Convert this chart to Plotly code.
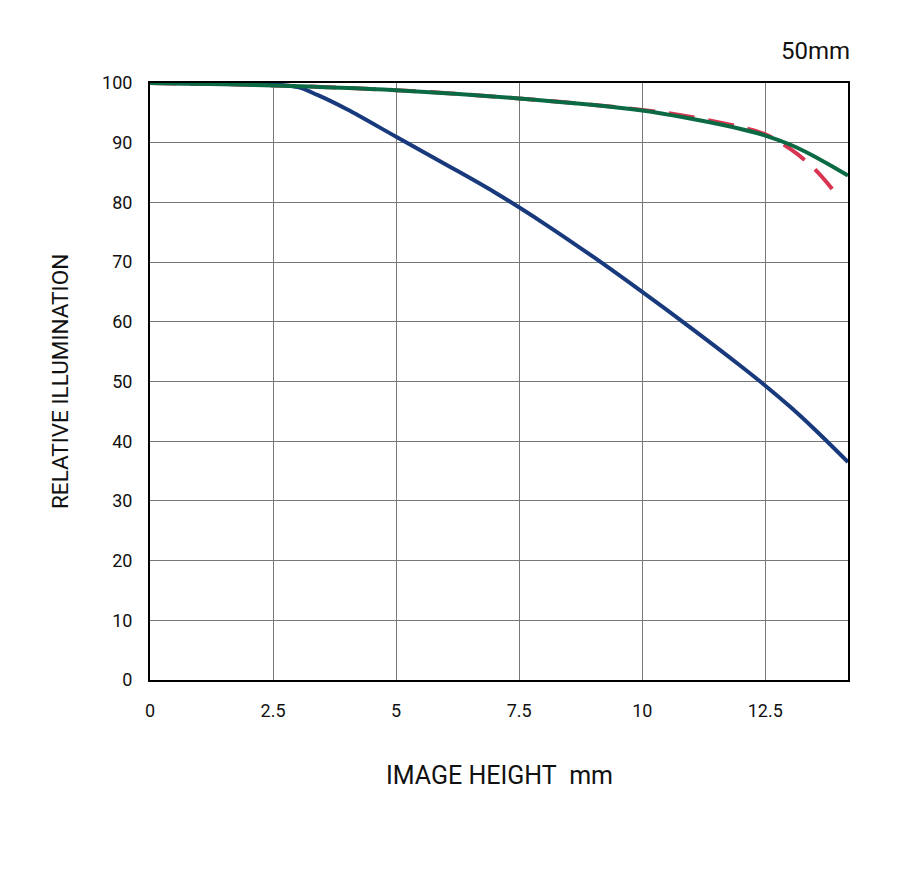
import plotly.graph_objects as go

# Data
blue_x = [0, 1, 2, 2.5, 3, 3.4, 4, 5, 6, 7, 8, 9, 10, 11, 12, 12.5, 13, 13.5, 14.18]
blue_y = [100, 99.9, 99.85, 99.75, 99.3, 98.0, 95.6, 91.0, 86.4, 81.7, 76.5, 70.9, 65.0, 58.9, 52.6, 49.3, 45.8, 42.0, 36.5]

green_x = [0, 2.5, 5, 7.5, 10, 11, 12, 12.5, 13, 13.5, 14.18]
green_y = [100, 99.6, 98.8, 97.4, 95.4, 94.0, 92.3, 91.2, 89.7, 87.7, 84.5]

red_x = [0, 2.5, 5, 7.5, 10, 11, 12, 12.5, 13, 13.5, 14.0]
red_y = [100, 99.6, 98.8, 97.4, 95.5, 94.3, 92.6, 91.4, 89.0, 85.6, 80.8]

x_ticks = [0, 2.5, 5, 7.5, 10, 12.5]
x_tick_labels = ["0", "2.5", "5", "7.5", "10", "12.5"]
y_ticks = [0, 10, 20, 30, 40, 50, 60, 70, 80, 90, 100]

FONT = "Roboto, Arial, sans-serif"

fig = go.Figure()
fig.add_trace(go.Scatter(x=red_x, y=red_y, mode="lines",
                         line=dict(color="#d93450", width=4, dash="26px,14px", shape="spline"),
                         showlegend=False))
fig.add_trace(go.Scatter(x=blue_x, y=blue_y, mode="lines",
                         line=dict(color="#183a7c", width=4, shape="spline"),
                         showlegend=False))
fig.add_trace(go.Scatter(x=green_x, y=green_y, mode="lines",
                         line=dict(color="#0b6a44", width=4, shape="spline"),
                         showlegend=False))

fig.update_layout(
    width=900, height=878,
    margin=dict(l=150, r=52, t=83, b=198),
    paper_bgcolor="white", plot_bgcolor="white",
    font=dict(family=FONT, size=18, color="#111"),
    xaxis=dict(range=[0, 14.18], tickvals=x_ticks, ticktext=x_tick_labels,
               showgrid=True, gridcolor="#777", gridwidth=1,
               showline=True, linecolor="black", linewidth=2, mirror=True,
               zeroline=False, ticks="", ticklabelstandoff=13,
               tickfont=dict(family=FONT, size=18)),
    yaxis=dict(range=[0, 100], tickvals=y_ticks,
               showgrid=True, gridcolor="#777", gridwidth=1,
               showline=True, linecolor="black", linewidth=2, mirror=True,
               zeroline=False, ticks="", ticklabelstandoff=12,
               tickfont=dict(family=FONT, size=18)),
    annotations=[
        dict(text="50mm", x=1.0, y=1.0, xref="paper", yref="paper", xanchor="right", yanchor="bottom",
             yshift=16, xshift=4, showarrow=False, font=dict(family=FONT, size=24, color="#111")),
        dict(text="IMAGE HEIGHT&nbsp;&nbsp;mm", x=(499 - 150) / 698, y=-(775 - 680) / 597,
             xref="paper", yref="paper", xanchor="center", yanchor="middle",
             showarrow=False, font=dict(family=FONT, size=25, color="#111")),
        dict(text="RELATIVE ILLUMINATION", x=-(150 - 60) / 698, y=(680 - 382) / 597,
             xref="paper", yref="paper", xanchor="center", yanchor="middle", textangle=-90,
             showarrow=False, font=dict(family=FONT, size=22.5, color="#111")),
    ],
)

fig.write_html("out.html")
